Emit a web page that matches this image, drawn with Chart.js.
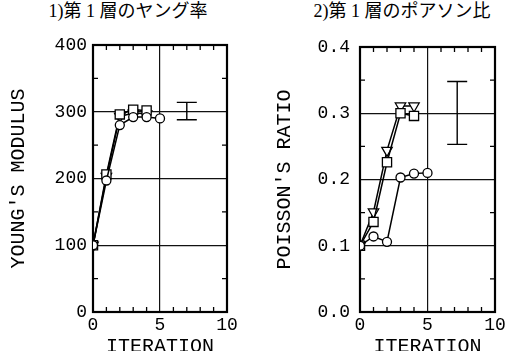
<!DOCTYPE html>
<html><head><meta charset="utf-8">
<script src="https://cdn.jsdelivr.net/npm/chart.js@4"></script>
<style>
html,body{margin:0;padding:0;width:527px;height:351px;overflow:hidden;background:#fff;}
.panel{position:absolute;top:0;}
.ttl{position:absolute;top:1px;font-family:'Liberation Serif','Noto Sans CJK JP',serif;font-size:18px;line-height:20px;color:#000;white-space:nowrap;transform:translateX(-50%);}
</style></head><body>
<div class="ttl" style="left:128px">1)第 1 層のヤング率</div>
<div class="ttl" style="left:402px">2)第 1 層のポアソン比</div>
<div class="panel" style="left:0;"><canvas id="c1" width="263" height="370"></canvas></div>
<div class="panel" style="left:263px;"><canvas id="c2" width="264" height="370"></canvas></div>
<script>
// ---- data ----
const iterations = [0, 1, 2, 3, 4, 5];
const youngCircle   = [100, 197, 280, 292, 292, 290];
const youngSquare   = [100, 206, 296, 303, 302];
const youngTriangle = [100, 203, 293, 298, 297];
const poissonCircle   = [0.1, 0.114, 0.106, 0.203, 0.209, 0.210];
const poissonSquare   = [0.1, 0.136, 0.226, 0.300, 0.296];
const poissonTriangle = [0.1, 0.151, 0.244, 0.311, 0.311];
const youngErrX = [7],   youngErrLow = [288],   youngErrHigh = [314];
const poissonErrX = [7.2], poissonErrLow = [0.253], poissonErrHigh = [0.348];
const xMinorTicks = [1, 2, 3, 4, 6, 7, 8, 9];
const youngMinorTicks = [50, 150, 250, 350];
const poissonMinorTicks = [0.05, 0.15, 0.25, 0.35];
const xTitle = 'ITERATION';
const youngTitle = "YOUNG'S MODULUS";
const poissonTitle = "POISSON'S RATIO";

const toPts = ys => ys.map((v, i) => ({x: iterations[i], y: v}));

const frameTicks = {
  id: 'frameTicks',
  beforeDatasetsDraw(chart, args, o) {
    const {ctx, chartArea: a, scales: {x, y}} = chart;
    const L = 5;
    ctx.save();
    ctx.strokeStyle = '#000';
    ctx.lineWidth = 1.3;
    ctx.beginPath();
    for (const v of o.xMinor) {
      const p = x.getPixelForValue(v);
      ctx.moveTo(p, a.bottom); ctx.lineTo(p, a.bottom - L);
      ctx.moveTo(p, a.top); ctx.lineTo(p, a.top + L);
    }
    for (const v of o.yMinor) {
      const p = y.getPixelForValue(v);
      ctx.moveTo(a.left, p); ctx.lineTo(a.left + L, p);
      ctx.moveTo(a.right, p); ctx.lineTo(a.right - L, p);
    }
    ctx.stroke();
    ctx.lineWidth = 2.2;
    ctx.strokeRect(a.left, a.top, a.right - a.left, a.bottom - a.top);
    ctx.restore();
  },
  afterDatasetsDraw(chart, args, o) {
    const {ctx, scales: {x, y}} = chart;
    const cap = 10;
    ctx.save();
    ctx.strokeStyle = '#000';
    ctx.lineWidth = 1.4;
    ctx.beginPath();
    o.errX.forEach((ex, i) => {
      const px = x.getPixelForValue(ex);
      const lo = y.getPixelForValue(o.errLow[i]);
      const hi = y.getPixelForValue(o.errHigh[i]);
      ctx.moveTo(px, lo); ctx.lineTo(px, hi);
      ctx.moveTo(px - cap, lo); ctx.lineTo(px + cap, lo);
      ctx.moveTo(px - cap, hi); ctx.lineTo(px + cap, hi);
    });
    ctx.stroke();
    ctx.restore();
  }
};

const mono = 'Liberation Mono';

function series(data, style, radius, rot) {
  return {
    data: toPts(data), showLine: true, borderColor: '#000', borderWidth: 1.5,
    pointStyle: style, pointRadius: radius, pointRotation: rot || 0,
    pointBackgroundColor: '#fff', pointBorderColor: '#000', pointBorderWidth: 1.3,
    tension: 0
  };
}

function makeChart(id, sets, cfg) {
  new Chart(document.getElementById(id), {
    type: 'scatter',
    data: {datasets: sets},
    plugins: [frameTicks],
    options: {
      responsive: false, animation: false, devicePixelRatio: 1,
      layout: {padding: {top: cfg.top, right: cfg.right, left: 0, bottom: 0}},
      plugins: {
        legend: {display: false}, tooltip: {enabled: false}, title: {display: false},
        frameTicks: cfg.plug
      },
      scales: {
        x: {
          type: 'linear', min: 0, max: 10,
          ticks: {stepSize: 5, color: '#000', padding: 2, font: {family: mono, size: 18}, maxRotation: 0},
          grid: {color: '#111', lineWidth: 1.2, drawTicks: false},
          border: {display: false},
          title: {display: true, text: xTitle, color: '#000', font: {family: mono, size: 20}, padding: {top: 0, bottom: 11}},
          afterFit: s => { s.height = cfg.xHeight; }
        },
        y: {
          type: 'linear', min: cfg.ymin, max: cfg.ymax,
          ticks: {stepSize: cfg.step, color: '#000', padding: cfg.tickPad, font: {family: mono, size: 18}, callback: cfg.fmt},
          grid: {color: '#111', lineWidth: 1.2, drawTicks: false},
          border: {display: false},
          title: {display: true, text: cfg.ytitle, color: '#000', font: {family: mono, size: 20}, padding: {top: cfg.titlePad, bottom: 0}},
          afterFit: s => { s.width = cfg.yWidth; }
        }
      }
    }
  });
}

makeChart('c1', [
  series(youngCircle, 'circle', 4.5),
  series(youngSquare, 'rect', 6.5),
  series(youngTriangle, 'triangle', 6, 180)
], {
  top: 45, right: 36, xHeight: 58, yWidth: 93, ymin: 0, ymax: 400, step: 100, tickPad: 6,
  fmt: v => String(v), ytitle: youngTitle, titlePad: 7,
  plug: {xMinor: xMinorTicks, yMinor: youngMinorTicks, errX: youngErrX, errLow: youngErrLow, errHigh: youngErrHigh}
});

makeChart('c2', [
  series(poissonCircle, 'circle', 4.5),
  series(poissonSquare, 'rect', 6.5),
  series(poissonTriangle, 'triangle', 6, 180)
], {
  top: 47, right: 32, xHeight: 58, yWidth: 97, ymin: 0, ymax: 0.4, step: 0.1, tickPad: 10,
  fmt: v => v.toFixed(1), ytitle: poissonTitle, titlePad: 10,
  plug: {xMinor: xMinorTicks, yMinor: poissonMinorTicks, errX: poissonErrX, errLow: poissonErrLow, errHigh: poissonErrHigh}
});
</script>
</body></html>
